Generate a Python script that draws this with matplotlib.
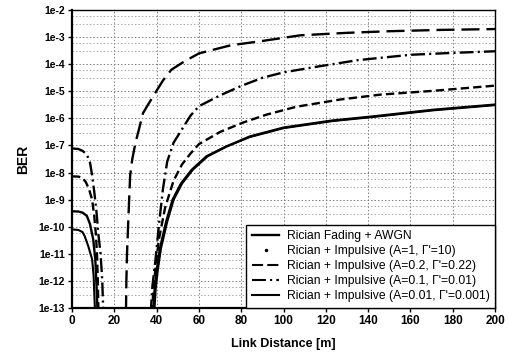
import numpy as np
import matplotlib
matplotlib.use('Agg')
import matplotlib.pyplot as plt
from matplotlib.lines import Line2D
from matplotlib.ticker import LogLocator, FixedLocator

plt.rcParams['font.family'] = ['Liberation Sans', 'DejaVu Sans']
plt.rcParams['lines.scale_dashes'] = False

# distance [m] and log10(BER)
# Rician fading + AWGN
awgn_l_x = [0, 3, 5, 7, 8.5, 10, 11, 11.6, 12.1]
awgn_l_y = [-9.43, -9.44, -9.48, -9.6, -9.9, -10.46, -11.2, -12.2, -13.2]
awgn_r_x = [38.8, 39.5, 40.5, 42, 45, 48, 52, 57, 64, 73, 84, 100, 123, 142, 171, 200]
awgn_r_y = [-13.2, -12.3, -11.6, -10.8, -9.8, -9.0, -8.4, -7.9, -7.4, -7.04, -6.67, -6.34, -6.08, -5.93, -5.68, -5.49]

# Rician + impulsive A=1, G=10
a1_l_x = [0, 3, 5, 6.5, 8, 9.5, 10.5, 11.3, 11.8, 12.2, 12.5]
a1_l_y = [-8.14, -8.15, -8.2, -8.35, -8.6, -9.0, -9.6, -10.3, -11.0, -12.0, -13.2]
a1_r_x = [37.8, 38.5, 39.5, 41, 44, 48, 52, 56, 60, 70, 81, 92, 106, 127, 146, 171, 200]
a1_r_y = [-13.2, -12.3, -11.5, -10.5, -9.3, -8.3, -7.7, -7.3, -6.95, -6.5, -6.15, -5.86, -5.57, -5.3, -5.12, -4.98, -4.79]

# Rician + impulsive A=0.2, G=0.22
a02_x = [25.5, 25.7, 26, 26.5, 27, 27.5, 28.5, 30, 31, 33.6, 35.5, 39, 43, 47, 53, 60, 75, 90, 108, 130, 150, 175, 200]
a02_y = [-13.2, -12, -11, -10, -9, -8.1, -7.5, -6.9, -6.6, -5.8, -5.55, -5.1, -4.6, -4.2, -3.9, -3.6, -3.3, -3.14, -2.93, -2.84, -2.78, -2.73, -2.7]

# Rician + impulsive A=0.1, G=0.01
a01_l_x = [0, 3, 5, 7, 8.5, 9.5, 10.5, 11.5, 12.5, 13.5, 14.3, 14.8]
a01_l_y = [-7.11, -7.13, -7.2, -7.33, -7.63, -8.1, -8.7, -9.4, -10.3, -11.0, -12.0, -13.2]
a01_r_x = [37.2, 38, 39.5, 41, 43, 45, 48, 52, 56, 60, 70, 80, 90, 100, 115, 135, 160, 180, 200]
a01_r_y = [-13.2, -12.2, -11.2, -10.0, -8.6, -7.6, -6.9, -6.4, -5.9, -5.55, -5.15, -4.8, -4.5, -4.3, -4.1, -3.85, -3.65, -3.58, -3.52]

# Rician + impulsive A=0.01, G=0.001
a001_l_x = [0, 3, 5, 6, 7.6, 9.5, 10.2, 10.9]
a001_l_y = [-10.1, -10.12, -10.2, -10.35, -10.7, -11.2, -11.8, -13.2]
a001_r_x = [38.3, 39, 40, 41.5, 44.5, 47.5, 51.5, 56.5, 63.5, 72.5, 84, 100, 123, 142, 171, 200]
a001_r_y = [-13.2, -12.3, -11.6, -10.8, -9.8, -9.0, -8.4, -7.9, -7.4, -7.05, -6.69, -6.36, -6.1, -5.95, -5.7, -5.51]

labels = ['Rician Fading + AWGN',
          'Rician + Impulsive (A=1, \u0393\u02b9=10)',
          'Rician + Impulsive (A=0.2, \u0393\u02b9=0.22)',
          'Rician + Impulsive (A=0.1, \u0393\u02b9=0.01)',
          'Rician + Impulsive (A=0.01, \u0393\u02b9=0.001)']
x_ticks = list(range(0, 201, 20))
y_exps = list(range(-13, -1))


def ber(v):
    return 10.0 ** np.array(v)


fig = plt.figure(figsize=(5.09, 3.61), dpi=100)
ax = fig.add_axes([0.1415, 0.147, 0.831, 0.825])

kw = dict(color='black', lw=1.7)
ax.plot(awgn_l_x, ber(awgn_l_y), **kw)
ax.plot(awgn_r_x, ber(awgn_r_y), **kw)
ax.plot(a1_l_x, ber(a1_l_y), dashes=(6, 3), **kw)
ax.plot(a1_r_x, ber(a1_r_y), dashes=(6, 3), **kw)
ax.plot(a02_x, ber(a02_y), dashes=(13, 5), **kw)
ax.plot(a01_l_x, ber(a01_l_y), dashes=(10, 3, 1.5, 3), **kw)
ax.plot(a01_r_x, ber(a01_r_y), dashes=(10, 3, 1.5, 3), **kw)
ax.plot(a001_l_x, ber(a001_l_y), color='black', lw=1.5)
ax.plot(a001_r_x, ber(a001_r_y), color='black', lw=1.5)

ax.set_yscale('log')
ax.set_xlim(0, 200)
ax.set_ylim(1e-13, 1e-2)
ax.set_xticks(x_ticks)
ax.set_xticklabels([str(t) for t in x_ticks], fontsize=8.5, fontweight='bold')
ax.yaxis.set_major_locator(FixedLocator([10.0 ** e for e in y_exps]))
ax.set_yticklabels(['1e%d' % e for e in y_exps], fontsize=7.5, fontweight='bold')
ax.yaxis.set_minor_locator(LogLocator(base=10, subs=(3.0, 6.0), numticks=50))
ax.tick_params(axis='y', which='minor', length=0)
ax.tick_params(direction='out', length=3, width=1, pad=2)

ax.grid(True, which='major', axis='both', color='#777777', linestyle=(0, (1, 1.5)), lw=0.7)
ax.grid(True, which='minor', axis='y', color='#999999', linestyle=(0, (1, 1.5)), lw=0.6)

for s in ax.spines.values():
    s.set_linewidth(1.0)
ax.spines['left'].set_linewidth(1.6)
ax.spines['bottom'].set_linewidth(1.6)

ax.set_xlabel('Link Distance [m]', fontsize=9, fontweight='bold', labelpad=8)
ax.set_ylabel('BER', fontsize=10, fontweight='bold', labelpad=6)

handles = [Line2D([], [], color='black', lw=1.7),
           Line2D([], [], color='black', ls='none', marker='.', markersize=3),
           Line2D([], [], color='black', lw=1.5, dashes=(8, 3)),
           Line2D([], [], color='black', lw=1.5, dashes=(10, 3, 1.5, 3)),
           Line2D([], [], color='black', lw=1.5)]
leg = ax.legend(handles, labels, loc='lower right', fontsize=8.7, frameon=True,
                fancybox=False, borderaxespad=0, handlelength=2.3,
                labelspacing=0.25, borderpad=0.45, handletextpad=0.6)
leg.get_frame().set_edgecolor('black')
leg.get_frame().set_linewidth(1.0)
leg.get_frame().set_alpha(1)

fig.savefig('out.png', dpi=100)
